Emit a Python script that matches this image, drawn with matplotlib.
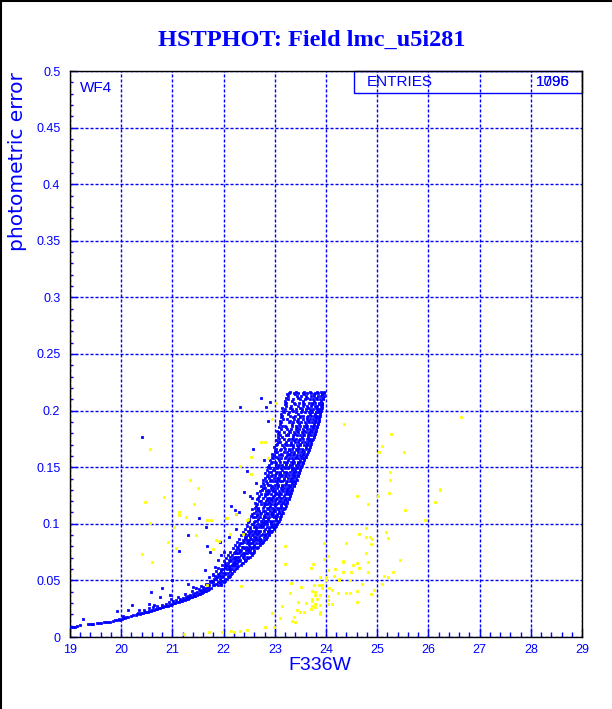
import matplotlib
matplotlib.use("Agg")
import matplotlib.pyplot as plt
from matplotlib.lines import Line2D
from matplotlib.patches import Rectangle
from matplotlib.ticker import MultipleLocator, FormatStrFormatter

plt.rcParams['font.family'] = ['Liberation Sans', 'DejaVu Sans']

blue = '#0000ff'
yellow = '#ffff00'

title = 'HSTPHOT: Field lmc_u5i281'
chip = 'WF4'
entries = ['1795', '1096']

# faint end of the sequence (lower curve)
tail_x = [19.02, 19.06, 19.10, 19.13, 19.20, 19.25, 19.36, 19.39, 19.42, 19.45, 19.52, 19.56,
          19.60, 19.66, 19.70, 19.75, 19.79, 19.84, 19.88, 19.91, 19.95, 19.98, 20.01, 20.04,
          20.07, 20.10, 20.14, 20.19, 20.23, 20.28, 20.31, 20.33, 20.36, 20.39, 20.42, 20.46,
          20.49, 20.52, 20.55, 20.58, 20.61, 20.64, 20.67, 20.70, 20.73, 20.76, 20.79, 20.82,
          20.85, 20.88, 20.91, 20.94, 20.97, 21.00, 21.03, 21.06, 21.09, 21.12, 21.15, 21.18,
          21.21, 21.24, 21.27, 21.30, 21.33, 21.36, 21.39, 21.42, 21.45, 21.48, 21.51, 21.54,
          21.57, 21.60, 21.63, 21.66, 21.69, 21.72, 21.75,
          20.35, 20.45, 20.55, 20.62, 20.70, 20.80, 20.87, 20.93, 21.02, 21.08, 21.14, 21.20,
          21.26, 21.31, 21.35, 21.40, 21.44, 21.49, 21.53, 21.58, 21.62, 21.66, 21.70,
          21.25, 21.38, 21.47, 21.56, 21.65, 20.65, 20.98, 21.10, 21.52, 21.60]
tail_y = [0.0090, 0.0091, 0.0092, 0.0095, 0.0104, 0.0160, 0.0118, 0.0113, 0.0112, 0.0117, 0.0125, 0.0124,
          0.0126, 0.0130, 0.0129, 0.0135, 0.0134, 0.0143, 0.0146, 0.0150, 0.0155, 0.0152, 0.0160, 0.0165,
          0.0170, 0.0176, 0.0180, 0.0183, 0.0190, 0.0195, 0.0200, 0.0210, 0.0205, 0.0210, 0.0214, 0.0218,
          0.0224, 0.0222, 0.0228, 0.0230, 0.0236, 0.0240, 0.0244, 0.0247, 0.0252, 0.0255, 0.0262, 0.0266,
          0.0270, 0.0272, 0.0278, 0.0283, 0.0287, 0.0292, 0.0297, 0.0300, 0.0305, 0.0311, 0.0315, 0.0320,
          0.0324, 0.0330, 0.0336, 0.0340, 0.0345, 0.0350, 0.0354, 0.0361, 0.0366, 0.0372, 0.0377, 0.0383,
          0.0390, 0.0395, 0.0402, 0.0409, 0.0416, 0.0423, 0.0430,
          0.0235, 0.0240, 0.0255, 0.0262, 0.0270, 0.0285, 0.0290, 0.0305, 0.0318, 0.0330, 0.0335, 0.0345,
          0.0355, 0.0365, 0.0372, 0.0380, 0.0390, 0.0400, 0.0405, 0.0415, 0.0425, 0.0432, 0.0440,
          0.0380, 0.0410, 0.0430, 0.0450, 0.0470, 0.0280, 0.0340, 0.0350, 0.0420, 0.0440]

# dense part of the sequence, rows of magnitudes per error level
band_levels = [0.0455, 0.0482, 0.0511, 0.0540, 0.0568, 0.0597, 0.0625, 0.0654, 0.0682, 0.0711,
               0.0740, 0.0768, 0.0797, 0.0826, 0.0854, 0.0883, 0.0912, 0.0940, 0.0969, 0.0998,
               0.1027, 0.1056, 0.1085, 0.1114, 0.1143, 0.1172, 0.1201, 0.1230, 0.1259, 0.1288,
               0.1317, 0.1346, 0.1375, 0.1404, 0.1433, 0.1462, 0.1491, 0.1520, 0.1549, 0.1578,
               0.1607, 0.1636, 0.1665, 0.1694, 0.1723, 0.1752, 0.1781, 0.1810, 0.1839, 0.1868,
               0.1897, 0.1926, 0.1955, 0.1984, 0.2013, 0.2042, 0.2071, 0.2100, 0.2129, 0.2158]
band_rows = [
    [21.71, 21.79, 21.82, 21.90, 21.95],
    [21.75, 21.80, 21.89, 21.93, 22.00],
    [21.82, 21.85, 21.93, 22.02, 22.06],
    [21.84, 21.91, 21.95, 21.99, 22.08, 22.12],
    [21.92, 21.99, 22.03, 22.08, 22.16],
    [21.95, 21.98, 22.07, 22.13, 22.17, 22.23],
    [22.02, 22.09, 22.13, 22.19, 22.24, 22.29],
    [22.03, 22.08, 22.18, 22.22, 22.27, 22.35, 22.38],
    [22.11, 22.15, 22.24, 22.29, 22.33, 22.42, 22.44],
    [22.12, 22.22, 22.26, 22.31, 22.37, 22.45, 22.51],
    [22.20, 22.25, 22.28, 22.37, 22.42, 22.46, 22.54, 22.57],
    [22.24, 22.31, 22.34, 22.43, 22.47, 22.52, 22.60],
    [22.26, 22.35, 22.38, 22.43, 22.52, 22.57, 22.62, 22.68],
    [22.33, 22.36, 22.46, 22.51, 22.55, 22.64, 22.69, 22.75],
    [22.37, 22.45, 22.50, 22.57, 22.61, 22.67, 22.74, 22.78],
    [22.41, 22.44, 22.51, 22.59, 22.64, 22.70, 22.78, 22.84],
    [22.42, 22.49, 22.58, 22.63, 22.68, 22.77, 22.83, 22.89],
    [22.48, 22.55, 22.61, 22.67, 22.72, 22.78, 22.86, 22.92, 22.95],
    [22.51, 22.59, 22.65, 22.71, 22.75, 22.84, 22.91, 22.96, 23.00],
    [22.55, 22.58, 22.68, 22.74, 22.79, 22.85, 22.93, 22.99, 23.04],
    [22.50, 22.62, 22.65, 22.74, 22.80, 22.84, 22.91, 22.97, 23.05, 23.08],
    [22.57, 22.61, 22.72, 22.78, 22.83, 22.89, 22.98, 23.02, 23.10],
    [22.56, 22.66, 22.71, 22.80, 22.86, 22.92, 22.97, 23.05, 23.12],
    [22.63, 22.70, 22.77, 22.81, 22.90, 22.96, 23.01, 23.08, 23.15],
    [22.61, 22.68, 22.76, 22.85, 22.89, 22.95, 23.04, 23.10, 23.14, 23.19],
    [22.66, 22.74, 22.80, 22.84, 22.93, 22.99, 23.03, 23.12, 23.20],
    [22.70, 22.73, 22.82, 22.88, 22.95, 23.00, 23.08, 23.13, 23.17, 23.24],
    [22.68, 22.77, 22.86, 22.91, 22.97, 23.05, 23.10, 23.15, 23.22, 23.27],
    [22.73, 22.80, 22.84, 22.93, 23.01, 23.06, 23.12, 23.19, 23.25, 23.30],
    [22.71, 22.83, 22.89, 22.96, 23.00, 23.09, 23.16, 23.21, 23.28, 23.32],
    [22.77, 22.81, 22.92, 22.98, 23.04, 23.12, 23.17, 23.23, 23.27, 23.34],
    [22.79, 22.87, 22.91, 23.00, 23.07, 23.14, 23.19, 23.26, 23.31, 23.37],
    [22.82, 22.90, 22.97, 23.02, 23.11, 23.15, 23.23, 23.29, 23.35, 23.40],
    [22.80, 22.88, 22.99, 23.04, 23.09, 23.18, 23.25, 23.31, 23.36, 23.42],
    [22.86, 22.95, 23.00, 23.08, 23.14, 23.20, 23.27, 23.33, 23.40, 23.45],
    [22.88, 22.92, 23.04, 23.10, 23.17, 23.22, 23.30, 23.37, 23.42, 23.48],
    [22.91, 22.99, 23.05, 23.13, 23.19, 23.25, 23.33, 23.38, 23.44, 23.50],
    [22.89, 23.02, 23.08, 23.15, 23.21, 23.29, 23.34, 23.41, 23.47, 23.53],
    [22.95, 23.00, 23.11, 23.18, 23.24, 23.31, 23.37, 23.45, 23.50, 23.56],
    [22.97, 23.06, 23.13, 23.19, 23.27, 23.34, 23.39, 23.46, 23.53, 23.58],
    [22.98, 23.09, 23.14, 23.23, 23.30, 23.35, 23.43, 23.49, 23.55, 23.61],
    [23.00, 23.05, 23.17, 23.24, 23.32, 23.38, 23.45, 23.52, 23.57, 23.64],
    [23.03, 23.12, 23.19, 23.27, 23.33, 23.41, 23.48, 23.54, 23.60, 23.66],
    [23.02, 23.14, 23.23, 23.29, 23.36, 23.44, 23.49, 23.57, 23.63, 23.69],
    [23.06, 23.11, 23.22, 23.31, 23.39, 23.45, 23.53, 23.59, 23.65, 23.71],
    [23.08, 23.18, 23.27, 23.33, 23.41, 23.49, 23.55, 23.62, 23.68, 23.74],
    [23.10, 23.21, 23.26, 23.36, 23.44, 23.50, 23.58, 23.64, 23.70, 23.76],
    [23.09, 23.17, 23.30, 23.37, 23.46, 23.53, 23.60, 23.66, 23.73, 23.78],
    [23.12, 23.24, 23.31, 23.41, 23.48, 23.55, 23.62, 23.69, 23.75, 23.80],
    [23.14, 23.20, 23.34, 23.42, 23.50, 23.58, 23.63, 23.71, 23.77, 23.82],
    [23.13, 23.27, 23.35, 23.45, 23.52, 23.59, 23.67, 23.73, 23.79, 23.84],
    [23.16, 23.24, 23.38, 23.46, 23.55, 23.62, 23.68, 23.75, 23.81, 23.86],
    [23.15, 23.30, 23.39, 23.49, 23.56, 23.64, 23.71, 23.77, 23.83, 23.88],
    [23.18, 23.27, 23.42, 23.51, 23.59, 23.66, 23.72, 23.80, 23.85, 23.89],
    [23.19, 23.34, 23.41, 23.53, 23.61, 23.69, 23.75, 23.82, 23.87, 23.91],
    [23.22, 23.31, 23.45, 23.55, 23.63, 23.70, 23.78, 23.83, 23.90, 23.93],
    [23.21, 23.38, 23.47, 23.56, 23.66, 23.73, 23.79, 23.86, 23.92],
    [23.25, 23.35, 23.50, 23.59, 23.68, 23.74, 23.82, 23.88, 23.94],
    [23.26, 23.43, 23.52, 23.61, 23.70, 23.77, 23.84, 23.90, 23.96],
    [23.28, 23.37, 23.46, 23.55, 23.63, 23.71, 23.79, 23.85, 23.93, 23.97],
]

# second, sparser set of rows lying between the first ones
band2_levels = [0.0469, 0.0497, 0.0526, 0.0554, 0.0583, 0.0611, 0.0640, 0.0668, 0.0697, 0.0725,
                0.0754, 0.0783, 0.0811, 0.0840, 0.0868, 0.0897, 0.0926, 0.0954, 0.0983, 0.1012,
                0.1041, 0.1070, 0.1099, 0.1128, 0.1157, 0.1186, 0.1215, 0.1244, 0.1273, 0.1302,
                0.1331, 0.1360, 0.1389, 0.1418, 0.1447, 0.1476, 0.1505, 0.1534, 0.1563, 0.1592,
                0.1621, 0.1650, 0.1679, 0.1708, 0.1737, 0.1766, 0.1795, 0.1824, 0.1853, 0.1882,
                0.1911, 0.1940, 0.1969, 0.1998, 0.2027, 0.2056, 0.2085, 0.2114, 0.2143, 0.2165]
band2_rows = [
    [21.69, 21.86, 21.95],
    [21.73, 21.79, 21.97, 22.03],
    [21.72, 21.88, 21.97, 22.10],
    [21.80, 21.89, 22.03, 22.15],
    [21.86, 21.95, 22.12, 22.21],
    [21.90, 22.02, 22.10, 22.26],
    [21.97, 22.05, 22.16, 22.21, 22.34],
    [22.01, 22.13, 22.20, 22.30, 22.41],
    [22.05, 22.19, 22.23, 22.39, 22.48],
    [22.09, 22.16, 22.34, 22.40, 22.55],
    [22.13, 22.22, 22.33, 22.50, 22.60],
    [22.18, 22.28, 22.40, 22.48, 22.56, 22.66],
    [22.22, 22.31, 22.49, 22.60, 22.72],
    [22.26, 22.40, 22.48, 22.58, 22.72, 22.77],
    [22.31, 22.42, 22.54, 22.63, 22.71, 22.83],
    [22.34, 22.47, 22.56, 22.73, 22.81, 22.88],
    [22.38, 22.52, 22.61, 22.70, 22.86, 22.93],
    [22.41, 22.52, 22.64, 22.81, 22.89, 22.99],
    [22.46, 22.62, 22.71, 22.77, 22.95, 23.03],
    [22.48, 22.60, 22.76, 22.82, 22.92, 23.07],
    [22.49, 22.68, 22.76, 22.87, 23.02, 23.10],
    [22.54, 22.65, 22.79, 22.95, 23.04, 23.13],
    [22.59, 22.73, 22.84, 22.94, 23.09, 23.16],
    [22.56, 22.67, 22.87, 22.98, 23.06, 23.18],
    [22.64, 22.78, 22.91, 23.00, 23.12, 23.21],
    [22.61, 22.78, 22.89, 23.06, 23.16, 23.24],
    [22.66, 22.85, 22.92, 23.03, 23.20, 23.27],
    [22.69, 22.80, 22.96, 23.08, 23.17, 23.29],
    [22.66, 22.87, 23.03, 23.11, 23.23, 23.32],
    [22.75, 22.86, 22.94, 23.14, 23.24, 23.34],
    [22.73, 22.94, 23.06, 23.15, 23.30, 23.37],
    [22.76, 22.84, 23.04, 23.22, 23.33, 23.39],
    [22.77, 22.93, 23.07, 23.17, 23.32, 23.43],
    [22.84, 22.93, 23.12, 23.21, 23.38, 23.45],
    [22.81, 23.03, 23.11, 23.24, 23.35, 23.47],
    [22.84, 22.96, 23.14, 23.33, 23.40, 23.50],
    [22.87, 23.07, 23.17, 23.28, 23.44, 23.52],
    [22.92, 23.03, 23.21, 23.36, 23.46, 23.55],
    [22.90, 23.09, 23.26, 23.36, 23.49, 23.58],
    [22.94, 23.03, 23.21, 23.41, 23.51, 23.61],
    [22.95, 23.13, 23.28, 23.37, 23.56, 23.63],
    [23.01, 23.10, 23.27, 23.44, 23.55, 23.66],
    [22.99, 23.18, 23.36, 23.45, 23.60, 23.68],
    [23.04, 23.19, 23.32, 23.50, 23.62, 23.71],
    [23.03, 23.25, 23.37, 23.48, 23.66, 23.73],
    [23.06, 23.15, 23.36, 23.53, 23.65, 23.76],
    [23.07, 23.25, 23.40, 23.56, 23.67, 23.78],
    [23.05, 23.28, 23.44, 23.57, 23.71, 23.80],
    [23.09, 23.22, 23.44, 23.61, 23.74, 23.82],
    [23.10, 23.33, 23.47, 23.60, 23.77, 23.84],
    [23.11, 23.29, 23.43, 23.64, 23.78, 23.86],
    [23.12, 23.35, 23.50, 23.63, 23.80, 23.87],
    [23.13, 23.26, 23.46, 23.68, 23.78, 23.89],
    [23.16, 23.36, 23.53, 23.70, 23.84, 23.90],
    [23.15, 23.29, 23.49, 23.65, 23.80, 23.92],
    [23.19, 23.40, 23.58, 23.73, 23.86, 23.93],
    [23.20, 23.33, 23.55, 23.76, 23.91],
    [23.22, 23.45, 23.62, 23.81, 23.94],
    [23.24, 23.39, 23.58, 23.76, 23.92],
    [23.29, 23.41, 23.57, 23.69, 23.82, 23.90, 23.96],
]

# isolated blue stars off the sequence
stray_x = [20.40, 22.33, 22.57, 22.63, 22.55, 22.14, 21.51, 21.65, 21.30, 21.12, 22.04, 21.93,
           21.73, 21.67, 21.83, 21.64, 20.99, 20.79, 20.58, 21.30, 21.41, 20.95, 20.76, 20.55,
           20.22, 20.13, 19.91, 20.03, 22.74, 22.91, 22.82, 22.87, 22.79, 22.22, 22.25, 22.52,
           22.45, 22.40, 22.25, 22.10, 22.00, 21.90, 22.30, 21.80, 21.95]
stray_y = [0.1770, 0.2035, 0.1660, 0.1360, 0.1230, 0.1157, 0.1050, 0.0975, 0.0900, 0.0760, 0.1050, 0.0840,
           0.0750, 0.0807, 0.0620, 0.0590, 0.0500, 0.0430, 0.0400, 0.0470, 0.0440, 0.0370, 0.0356, 0.0290,
           0.0286, 0.0240, 0.0230, 0.0186, 0.2110, 0.2080, 0.2035, 0.1910, 0.1560, 0.1120, 0.1090, 0.1250,
           0.1470, 0.1280, 0.0950, 0.0880, 0.0750, 0.0680, 0.1100, 0.0550, 0.0720]

# rejected stars (yellow)
yel_x = [20.56, 21.34, 21.50, 20.84, 20.46, 21.42, 21.13, 21.13, 21.27, 21.67, 21.75, 20.56,
         21.03, 21.46, 20.91, 21.08, 20.40, 20.60, 22.32, 22.53, 22.53, 22.25, 22.04, 22.12,
         22.37, 22.45, 22.47, 21.79, 21.91, 22.34, 21.67, 21.23, 21.71, 21.97, 22.14, 22.20,
         22.33, 22.45, 21.86, 22.94, 22.73, 22.81, 22.86, 23.02, 22.06,
         26.63, 24.35, 25.26, 25.10, 25.04, 25.52, 25.25, 25.25, 25.23, 25.02, 24.60, 26.23,
         26.23, 26.12, 24.82, 25.55, 25.93, 24.79, 24.64, 24.78, 24.86, 25.17, 25.22, 24.89,
         23.96, 24.39, 23.19, 24.87, 24.79, 24.03, 23.97, 25.44, 24.33, 24.33, 24.83, 24.60,
         23.19, 23.74, 24.52, 24.64, 23.70, 24.03, 25.30, 24.83, 24.18, 24.33, 24.48, 23.88,
         24.00, 24.00, 24.16, 24.25, 24.25, 25.13, 25.21, 24.47, 24.70, 25.09, 23.31, 23.77,
         23.86, 23.93, 23.93, 23.52, 24.05, 23.73, 23.79, 24.12, 24.94, 24.23, 24.39, 24.46,
         24.60, 23.30, 23.88, 23.79, 24.87, 24.04, 23.73, 23.82, 24.04, 23.46, 24.60, 23.72,
         23.79, 23.60, 24.03, 24.12, 23.88, 23.79, 23.43, 23.15, 23.49, 23.57, 23.88, 23.88,
         23.70, 23.73, 22.95, 23.38, 23.10, 23.34, 23.39, 22.80, 22.98]
yel_y = [0.1660, 0.1384, 0.1316, 0.1234, 0.1196, 0.1175, 0.1100, 0.1080, 0.1063, 0.1034, 0.1034, 0.1010,
         0.0975, 0.0900, 0.0842, 0.0783, 0.0733, 0.0665, 0.1510, 0.1587, 0.1440, 0.1087, 0.1050, 0.0907,
         0.0907, 0.1034, 0.1040, 0.0775, 0.0850, 0.0453, 0.0460, 0.0024, 0.0042, 0.0042, 0.0050, 0.0042,
         0.0050, 0.0060, 0.0857, 0.1926, 0.1720, 0.1720, 0.1580, 0.2070, 0.1047,
         0.1946, 0.1880, 0.1790, 0.1690, 0.1630, 0.1630, 0.1455, 0.1384, 0.1275, 0.1246, 0.1246, 0.1310,
         0.1298, 0.1190, 0.1175, 0.1125, 0.1030, 0.0963, 0.0910, 0.0887, 0.0887, 0.0925, 0.0878, 0.0863,
         0.0833, 0.0833, 0.0804, 0.0820, 0.0745, 0.0716, 0.0692, 0.0680, 0.0670, 0.0660, 0.0666, 0.0650,
         0.0645, 0.0645, 0.0636, 0.0610, 0.0612, 0.0590, 0.0574, 0.0574, 0.0600, 0.0574, 0.0574, 0.0533,
         0.0533, 0.0504, 0.0540, 0.0510, 0.0500, 0.0540, 0.0530, 0.0500, 0.0468, 0.0465, 0.0480, 0.0460,
         0.0460, 0.0460, 0.0432, 0.0445, 0.0430, 0.0410, 0.0400, 0.0415, 0.0415, 0.0390, 0.0390, 0.0390,
         0.0410, 0.0386, 0.0370, 0.0370, 0.0380, 0.0362, 0.0340, 0.0340, 0.0327, 0.0310, 0.0310, 0.0318,
         0.0290, 0.0300, 0.0290, 0.0290, 0.0280, 0.0263, 0.0238, 0.0270, 0.0218, 0.0218, 0.0220, 0.0203,
         0.0250, 0.0270, 0.0215, 0.0180, 0.0165, 0.0144, 0.0135, 0.0090, 0.0090]

band_x = [x for row in band_rows + band2_rows for x in row]
band_y = [lev for lev, row in zip(band_levels + band2_levels, band_rows + band2_rows) for _ in row]

fig = plt.figure(figsize=(6.12, 7.09), dpi=100)
ax = fig.add_axes([70/612, 1 - 637/709, 512/612, 566/709])

# small solid squares, edge in the same colour so they render at about 2-3 px
for xs, ys, c, z in [(tail_x, tail_y, blue, 3), (band_x, band_y, blue, 3),
                     (stray_x, stray_y, blue, 3), (yel_x, yel_y, yellow, 4)]:
    ax.scatter(xs, ys, s=1.1, marker='s', c=c, edgecolors=c, linewidths=0.55, zorder=z)

ax.set_xlim(19, 29)
ax.set_ylim(0, 0.5)
ax.xaxis.set_major_locator(MultipleLocator(1))
ax.xaxis.set_minor_locator(MultipleLocator(0.2))
ax.yaxis.set_major_locator(MultipleLocator(0.05))
ax.yaxis.set_minor_locator(MultipleLocator(0.01))
ax.yaxis.set_major_formatter(plt.FuncFormatter(lambda v, p: '0' if v == 0 else ('%.2f' % v).rstrip('0')))
ax.xaxis.set_major_formatter(FormatStrFormatter('%d'))

ax.tick_params(which='both', direction='in', colors=blue, labelcolor=blue, labelsize=9,
               top=False, right=False, width=1)
ax.tick_params(axis='x', which='major', length=6.5, pad=5)
ax.tick_params(axis='x', which='minor', length=3.6)
ax.tick_params(axis='y', which='major', length=5, pad=7)
ax.tick_params(axis='y', which='minor', length=2.5)

ax.set_axisbelow(True)
ax.grid(True, which='major', color=blue, linewidth=1, linestyle=(0, (2.2, 1.4)))
for s in ax.spines.values():
    s.set_color('black')
    s.set_linewidth(1)

# statistics box
ax.add_patch(Rectangle((0.5547, 0.961), 0.4453, 0.039, transform=ax.transAxes,
                       fill=False, edgecolor=blue, linewidth=1, zorder=0.3, clip_on=False))
ax.text(0.58, 0.9805, 'ENTRIES', transform=ax.transAxes, color=blue, fontsize=11,
        ha='left', va='center', zorder=0.3)
for e in entries:
    ax.text(0.977, 0.9805, e, transform=ax.transAxes, color=blue, fontsize=11,
            ha='right', va='center', zorder=0.3)
ax.text(0.02, 0.970, chip, transform=ax.transAxes, color=blue, fontsize=11,
        ha='left', va='center', zorder=0.3)

fig.text(312/612, 1 - 40/709, title, ha='center', va='center', color=blue,
         fontsize=17.5, fontweight='bold', family=['Liberation Serif', 'DejaVu Serif'])
fig.text(18/612, 1 - 72/709, 'photometric error', rotation=90, ha='center', va='top',
         color=blue, fontsize=14.5, family=['DejaVu Sans'])
fig.text(320/612, 1 - 665/709, 'F336W', ha='center', va='center', color=blue, fontsize=14)

# frame on the top and left edges of the picture
fig.add_artist(Line2D([0.001, 0.001], [0, 1], transform=fig.transFigure, color='black', lw=1.5))
fig.add_artist(Line2D([0, 1], [0.999, 0.999], transform=fig.transFigure, color='black', lw=1.5))

fig.savefig('out.png', dpi=100)
